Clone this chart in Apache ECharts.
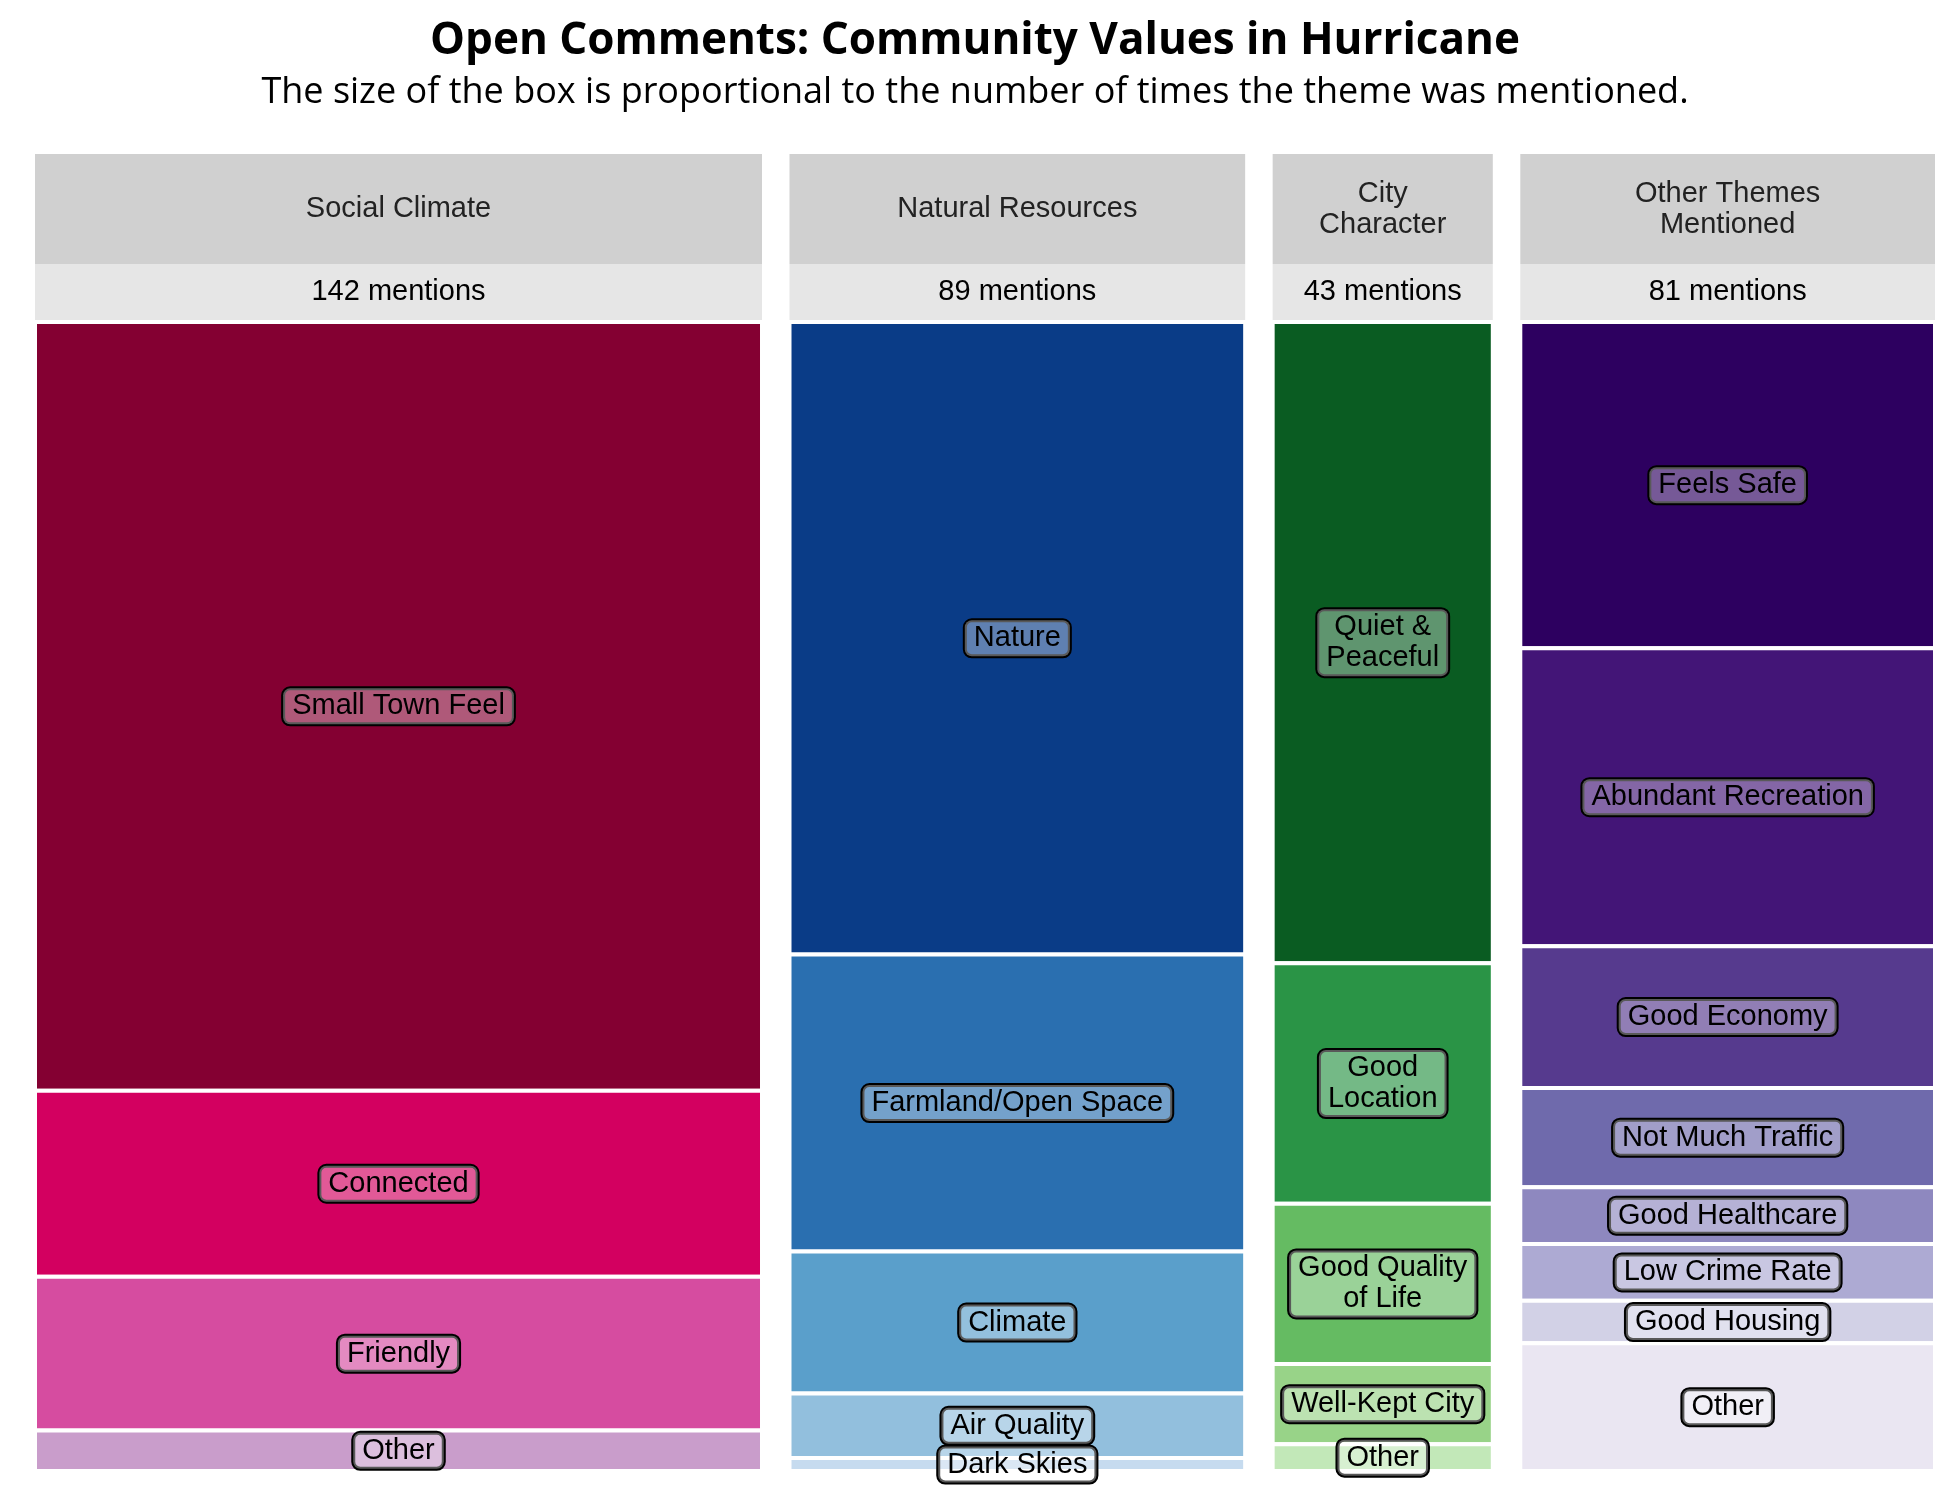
<!DOCTYPE html>
<html><head><meta charset="utf-8">
<script src="https://cdn.jsdelivr.net/npm/echarts@6/dist/echarts.min.js"></script>
<style>html,body{margin:0;background:#fff}#c{width:1950px;height:1500px}</style>
</head><body><div id="c"></div>
<script>
const groups = ["Social Climate","Natural Resources","City\nCharacter","Other Themes\nMentioned"];
const themes = [
  ["Small Town Feel","Connected","Friendly","Other"],
  ["Nature","Farmland/Open Space","Climate","Air Quality","Dark Skies"],
  ["Quiet &\nPeaceful","Good\nLocation","Good Quality\nof Life","Well-Kept City","Other"],
  ["Feels Safe","Abundant Recreation","Good Economy","Not Much Traffic","Good Healthcare","Low Crime Rate","Good Housing","Other"]
];
const counts = [
  [95,23,19,5],
  [49,23,11,5,1],
  [24,9,6,3,1],
  [23,21,10,7,4,4,3,9]
];
const colors = [
  ["#840032","#d30060","#d64ca0","#c99dcb"],
  ["#0a3c87","#2a6fb0","#5a9fcb","#92bfdd","#c6dbef"],
  ["#0a5c22","#2a9446","#65bb62","#98d388","#c2e8b8"],
  ["#2d0060","#431577","#563a8e","#6f6aac","#8e88bf","#adaad3","#d2d1e6","#eae6f2"]
];
const GAP = 5.37;
const totals = counts.map(a=>a.reduce((s,v)=>s+v,0));
const tiles = [], heads = [];
let x = 0;
totals.forEach((t,g)=>{
  heads.push({value:[x,x+t], name:groups[g], total:t});
  let cy = 0;
  counts[g].forEach((v,i)=>{
    tiles.push({value:[x,x+t,cy/t,(cy+v)/t], name:themes[g][i], color:colors[g][i]});
    cy += v;
  });
  x += t + GAP;
});
const xMax = x - GAP;
const chart = echarts.init(document.getElementById('c'));
chart.setOption({
  animation:false,
  title:{text:'Open Comments: Community Values in Hurricane',
    subtext:'The size of the box is proportional to the number of times the theme was mentioned.',
    left:'center', top:14, itemGap:12,
    textStyle:{fontFamily:'Open Sans',fontWeight:'bold',fontSize:44,color:'#000'},
    subtextStyle:{fontFamily:'Open Sans',fontSize:36,color:'#000'}},
  grid:{left:35,right:15,top:322,bottom:29},
  xAxis:{type:'value',min:0,max:xMax,show:false},
  yAxis:{type:'value',min:0,max:1,inverse:true,show:false},
  series:[
    {type:'custom', data:heads, renderItem:(p,api)=>{
      const a=api.coord([api.value(0),0]), b=api.coord([api.value(1),0]);
      const it=heads[p.dataIndex];
      return {type:'group',children:[
        {type:'rect',shape:{x:a[0],y:a[1]-168,width:b[0]-a[0],height:110},style:{fill:'#d0d0d0'}},
        {type:'rect',shape:{x:a[0],y:a[1]-58,width:b[0]-a[0],height:56},style:{fill:'#e6e6e6'}},
        {type:'text',style:{x:(a[0]+b[0])/2,y:a[1]-113,text:it.name,align:'center',verticalAlign:'middle',
          font:'29px "Liberation Sans", Arial',fill:'#222',lineHeight:31}},
        {type:'text',style:{x:(a[0]+b[0])/2,y:a[1]-30,text:it.total+' mentions',align:'center',verticalAlign:'middle',
          font:'29px "Liberation Sans", Arial',fill:'#000'}}
      ]};
    }},
    {type:'custom', data:tiles, renderItem:(p,api)=>{
      const a=api.coord([api.value(0),api.value(2)]), b=api.coord([api.value(1),api.value(3)]);
      const it=tiles[p.dataIndex];
      return {type:'group',children:[
        {type:'rect',shape:{x:a[0],y:a[1],width:b[0]-a[0],height:b[1]-a[1]},
          style:{fill:it.color,stroke:'#fff',lineWidth:4}},
        {type:'text',z2:10,style:{x:(a[0]+b[0])/2,y:(a[1]+b[1])/2,text:it.name,align:'center',verticalAlign:'middle',
          font:'29px "Liberation Sans", Arial',fill:'#000',lineHeight:31,
          backgroundColor:'rgba(255,255,255,0.35)',borderColor:'#000',borderWidth:2,borderRadius:7,padding:[3,9,2,9]}}
      ]};
    }}
  ]
});
</script></body></html>
